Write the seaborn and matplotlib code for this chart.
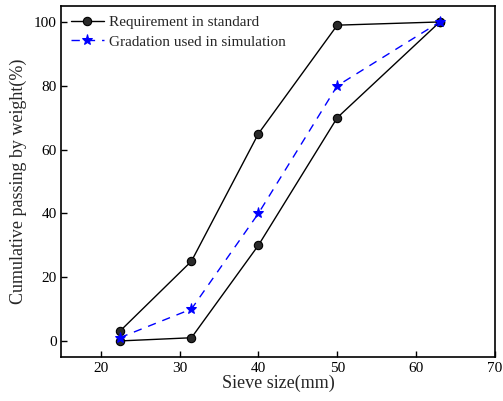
import matplotlib
matplotlib.use("Agg")
import matplotlib.pyplot as plt
import seaborn as sns
import pandas as pd

sieve = [22.4, 31.5, 40, 50, 63]
upper = [3, 25, 65, 99, 100]
lower = [0, 1, 30, 70, 100]
simulation = [1, 10, 40, 80, 100]

sns.set_style("ticks")
plt.rcParams['font.family'] = ['Liberation Serif', 'DejaVu Serif']
plt.rcParams['mathtext.fontset'] = 'stix'

fig, ax = plt.subplots(figsize=(5.03, 4.01), dpi=100)
fig.subplots_adjust(left=0.122, right=0.984, top=0.985, bottom=0.11)

df_up = pd.DataFrame({"x": sieve, "y": upper})
df_lo = pd.DataFrame({"x": sieve, "y": lower})
df_sim = pd.DataFrame({"x": sieve, "y": simulation})

mk = dict(marker="o", markersize=6, markerfacecolor="#2a2a2a", markeredgecolor="black", markeredgewidth=0.8)
sns.lineplot(data=df_up, x="x", y="y", ax=ax, color="black", lw=1, sort=False,
             label="Requirement in standard", **mk)
sns.lineplot(data=df_lo, x="x", y="y", ax=ax, color="black", lw=1, sort=False, **mk)
sns.lineplot(data=df_sim, x="x", y="y", ax=ax, color="blue", lw=1, sort=False,
             linestyle=(0, (6, 5)), marker="*", markersize=8, markeredgecolor="blue",
             markerfacecolor="blue", label="Gradation used in simulation")

ax.set_xlim(15, 70)
ax.set_ylim(-5, 105)
ax.set_xticks([20, 30, 40, 50, 60, 70])
ax.set_yticks([0, 20, 40, 60, 80, 100])
ax.tick_params(direction="in", length=4, width=1, labelsize=11, colors="black")
for s in ax.spines.values():
    s.set_linewidth(1.2)
    s.set_color("black")
ax.set_xlabel("Sieve size(mm)", fontsize=13, labelpad=0)
ax.set_ylabel("Cumulative passing by weight(%)", fontsize=13, labelpad=5)

leg = ax.legend(loc="upper left", frameon=False, fontsize=11, handlelength=2.2,
                handletextpad=0.3, borderaxespad=0.2, labelspacing=0.4,
                bbox_to_anchor=(0.0, 1.0))

fig.savefig("out.png", dpi=100)
